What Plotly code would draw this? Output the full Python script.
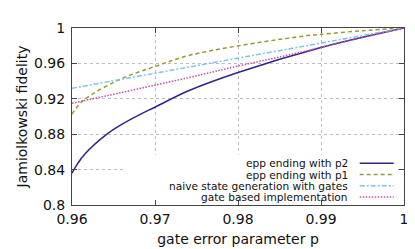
import plotly.graph_objects as go

# ---- data ----
p2_x = [0.96, 0.9607, 0.9615, 0.9642, 0.9661, 0.9681, 0.97, 0.9739, 0.98, 0.99, 1.0]
p2_y = [0.836, 0.847, 0.857, 0.880, 0.8916, 0.9018, 0.9105, 0.9285, 0.9497, 0.978, 1.0]

p1_x = [0.96, 0.9613, 0.9657, 0.97, 0.9739, 0.98, 0.9884, 0.99, 0.995, 1.0]
p1_y = [0.9026, 0.9176, 0.9416, 0.9565, 0.9685, 0.9798, 0.9914, 0.9928, 0.997, 1.0]

naive_x = [0.96, 0.9739, 0.9884, 1.0]
naive_y = [0.9319, 0.9555, 0.9803, 1.0]

gate_x = [0.96, 0.9739, 0.98, 0.9884, 0.99, 1.0]
gate_y = [0.9149, 0.9436, 0.957, 0.9744, 0.9782, 1.0]

names = ["epp ending with p2", "epp ending with p1",
         "naive state generation with gates", "gate based implementation"]
colors = ["#332288", "#999933", "#7ec3e6", "#bf4faa"]
dashes = ["solid", "4px,3px", "5px,2px,2px,2px", "1.5px,1.5px"]

x_ticks = [0.96, 0.97, 0.98, 0.99, 1.0]
x_labels = ["0.96", "0.97", "0.98", "0.99", "1"]
y_ticks = [0.8, 0.84, 0.88, 0.92, 0.96, 1.0]
y_labels = ["0.8", "0.84", "0.88", "0.92", "0.96", "1"]

series = [(p2_x, p2_y, "spline"), (p1_x, p1_y, "spline"),
          (naive_x, naive_y, "linear"), (gate_x, gate_y, "spline")]

FONT = "DejaVu Sans"
fig = go.Figure()
for (xs, ys, shp), nm, c, d in zip(series, names, colors, dashes):
    fig.add_trace(go.Scatter(x=xs, y=ys, mode="lines", name=nm,
                             line=dict(color=c, width=1.5, dash=d, shape=shp, smoothing=1.0),
                             showlegend=False))

axcol = "#444444"
common = dict(showline=True, linecolor=axcol, linewidth=1, mirror="ticks",
              ticks="inside", ticklen=5, tickcolor=axcol, tickwidth=1,
              showgrid=True, gridcolor="#bdbdbd", griddash="dot", gridwidth=1,
              zeroline=False, tickfont=dict(family=FONT, size=14, color="#111"))

fig.update_xaxes(range=[0.96, 1.0], tickvals=x_ticks, ticktext=x_labels,
                 ticklabelstandoff=1,
                 title=dict(text="gate error parameter p", standoff=8,
                            font=dict(family=FONT, size=14, color="#111")),
                 **common)
fig.update_yaxes(range=[0.8, 1.0], tickvals=y_ticks, ticktext=y_labels,
                 ticklabelstandoff=3,
                 title=dict(text="Jamiolkowski fidelity", standoff=3,
                            font=dict(family=FONT, size=14, color="#111")),
                 **common)

shapes = [dict(type="rect", xref="x", yref="y", x0=0.96623, x1=0.9993,
               y0=0.8065, y1=0.8567, fillcolor="white", line=dict(width=0),
               layer="above")]
annotations = []
row_y = [0.2354, 0.1718, 0.1082, 0.0446]
for nm, c, d, yy in zip(names, colors, dashes, row_y):
    annotations.append(dict(text=nm, xref="paper", yref="paper", x=0.8334, y=yy,
                            xanchor="right", yanchor="middle", showarrow=False,
                            borderpad=0,
                            font=dict(family=FONT, size=10.6, color="#111")))
    shapes.append(dict(type="line", xref="paper", yref="paper", x0=0.8666, x1=0.969,
                       y0=yy, y1=yy, line=dict(color=c, width=1.5, dash=d), layer="above"))

fig.update_layout(width=415, height=249, margin=dict(l=64, r=19, t=14, b=40),
                  paper_bgcolor="white", plot_bgcolor="white",
                  shapes=shapes, annotations=annotations,
                  font=dict(family=FONT))
fig.write_html("out.html")
